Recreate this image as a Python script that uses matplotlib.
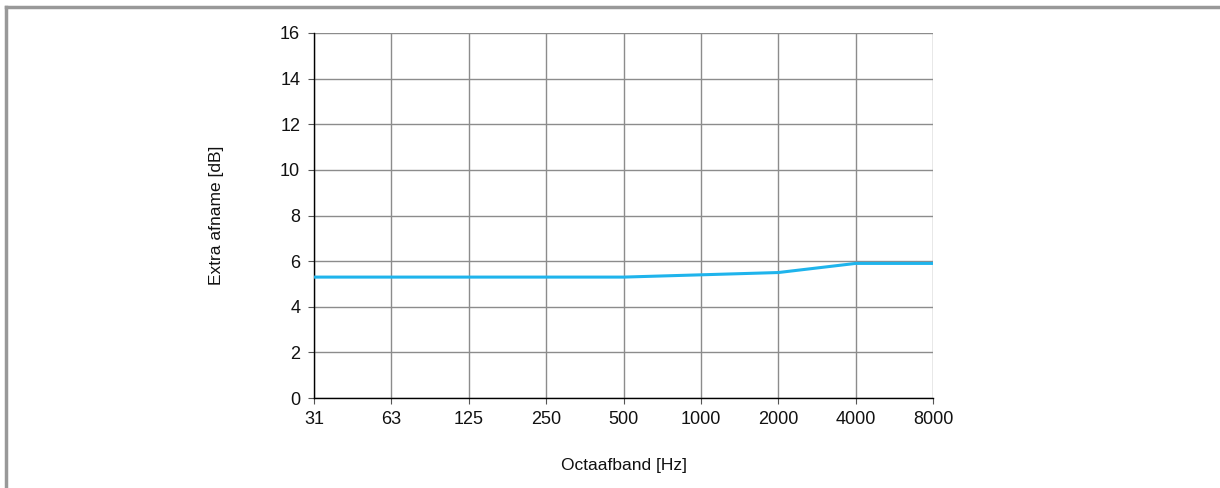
import matplotlib
matplotlib.use('Agg')
import matplotlib.pyplot as plt
from matplotlib.lines import Line2D

plt.rcParams['font.family'] = ['Liberation Sans', 'DejaVu Sans']

# octaafbanden en extra afname
bands = ['31', '63', '125', '250', '500', '1000', '2000', '4000', '8000']
afname = [5.3, 5.3, 5.3, 5.3, 5.3, 5.4, 5.5, 5.9, 5.9]

fig = plt.figure(figsize=(12.2, 4.88), dpi=100)
ax = fig.add_axes([0.2574, 0.1844, 0.5074, 0.748])

x = list(range(len(bands)))
ax.plot(x, afname, color='#1fb4ec', linewidth=2.2, solid_capstyle='butt', zorder=3)

ax.set_xlim(0, len(bands) - 1)
ax.set_ylim(0, 16)
ax.set_xticks(x)
ax.set_xticklabels(bands)
ax.set_yticks(range(0, 17, 2))
ax.grid(True, color='#8c8c8c', linewidth=1.0)
ax.set_axisbelow(True)

for s in ['top', 'right']:
    ax.spines[s].set_visible(False)
for s in ['left', 'bottom']:
    ax.spines[s].set_color('black')
    ax.spines[s].set_linewidth(1.0)

ax.tick_params(axis='both', labelsize=13, length=4, width=0.8, color='#555555',
               labelcolor='#111111')
ax.tick_params(axis='x', pad=5)
ax.tick_params(axis='y', pad=6)
ax.set_xlabel('Octaafband [Hz]', fontsize=12.5, labelpad=22, color='#111111')
ax.set_ylabel('Extra afname [dB]', fontsize=12.5, labelpad=40, color='#111111')

# kader rond de figuur
kw = dict(color='#999999', linewidth=2.5, transform=fig.transFigure)
fig.add_artist(Line2D([0.005, 1.0], [0.985, 0.985], **kw))
fig.add_artist(Line2D([0.005, 0.005], [0.0, 0.985], **kw))

fig.savefig('out.png', dpi=100)
